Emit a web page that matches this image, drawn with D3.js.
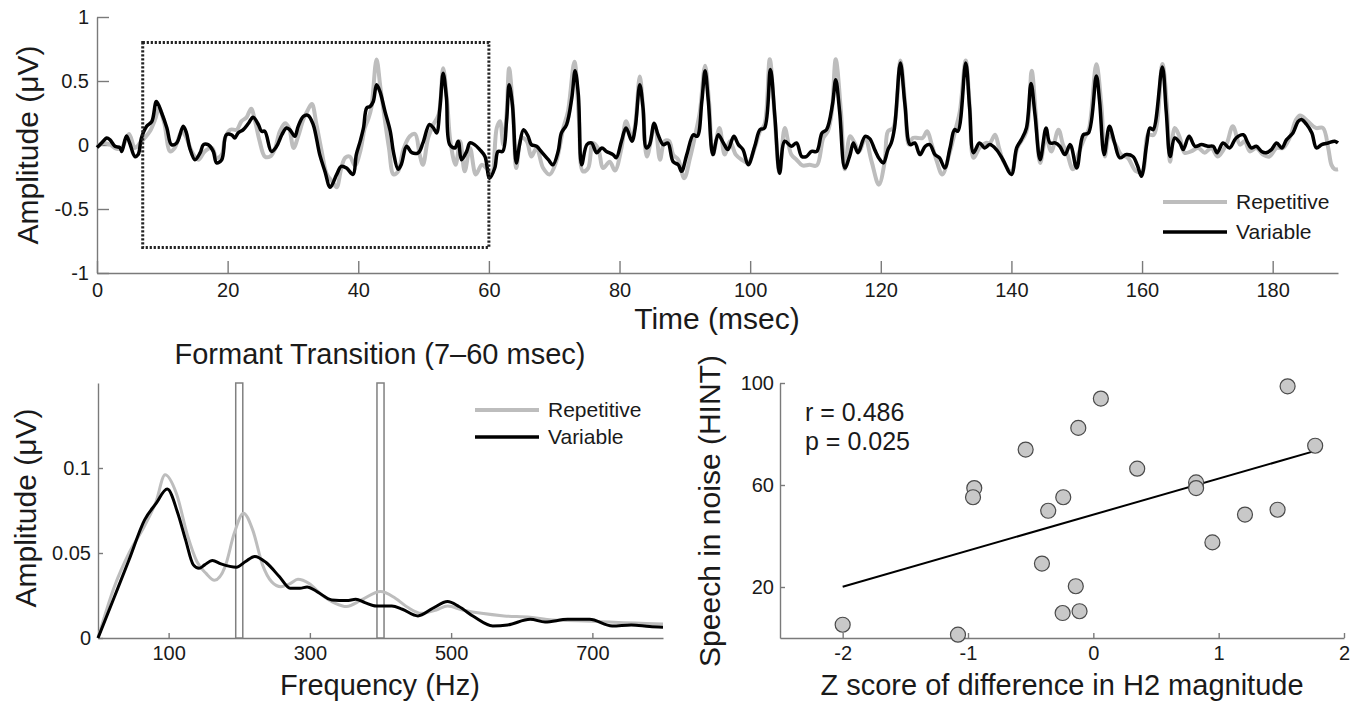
<!DOCTYPE html>
<html>
<head>
<meta charset="utf-8">
<script src="https://cdn.jsdelivr.net/npm/d3@7"></script>
<style>
  body { margin: 0; background: #fff; }
  text { font-family: "Liberation Sans", Arial, sans-serif; fill: #1a1a1a; }
</style>
</head>
<body>
<svg id="fig" width="1355" height="707"></svg>
<script>
////////////////////////////////////////
// data
////////////////////////////////////////

// top panel: averaged response, variable condition (black)
var varTime = [0,0.7,1.5,2.0,2.75,3.5,3.8,4.5,5.0,5.8,6.3,6.8,7.6,8.4,9.1,9.9,10.7,11.4,12.2,13.2,13.7,14.2,15.0,15.8,16.3,17.0,17.8,18.3,19.1,19.8,
  20.6,21.1,21.6,22.4,23.2,23.9,24.7,25.2,25.7,26.7,27.5,28.3,29.0,29.5,30.3,30.8,31.6,32.3,33.1,34.1,34.9,35.7,36.7,37.4,38.2,39.2,39.7,
  40.3,40.8,41.3,41.8,42.3,42.8,43.3,44.1,44.9,45.4,46.1,46.6,47.4,48.2,49.2,49.9,50.9,51.5,52.0,52.5,53.0,53.5,54.0,54.8,55.3,55.8,56.6,
  57.1,57.8,58.6,59.4,60.1,60.9,61.4,62.1,62.7,63.1,63.6,64.2,64.7,65.3,66.0,66.5,67.3,68.0,69.1,69.8,70.6,71.1,71.9,72.7,73.2,73.7,74.2,
  75.0,75.7,76.5,77.3,78.0,79.0,79.5,80.3,81.0,81.9,82.4,83.1,83.6,84.1,84.6,85.3,85.9,86.7,87.4,88.2,89.0,89.5,90.3,91.3,91.9,92.6,93.1,
  93.6,94.3,95.1,95.9,96.6,97.5,98.2,98.9,99.7,100.7,101.5,102.2,103.1,103.8,104.5,105.3,106.3,107.1,107.9,108.6,109.4,110.2,111.0,111.7,
  112.6,113.1,113.7,114.5,115.3,115.8,116.5,117.6,118.3,119.1,119.8,120.4,121.1,121.6,122.1,123.0,123.7,124.5,125.2,126.0,126.8,127.5,
  128.3,129.0,129.8,130.6,131.3,131.8,133.0,133.6,134.2,135.1,135.9,136.7,137.7,138.7,140.0,140.8,141.5,142.3,143.0,143.6,144.4,145.3,
  145.9,146.7,147.4,148.2,149.0,150.0,151.0,151.8,153.0,153.5,154.2,155.0,155.8,156.6,157.6,158.6,159.3,159.9,160.7,161.2,161.7,163.1,
  163.7,164.3,165.0,165.8,166.3,167.2,168.1,169.1,170.1,170.9,171.5,172.4,173.4,174.4,175.5,176.2,176.7,177.5,178.3,179.0,179.8,180.6,
  181.4,182.1,183.1,183.9,184.4,185.2,186.0,186.7,187.5,188.5,189.5,190.0];
var varAmp = [-0.02,0.016,0.055,0.04,-0.01,-0.02,-0.05,0.07,0.016,-0.09,-0.075,0.055,0.146,0.185,0.34,0.25,0.133,0.003,0.016,0.146,0.094,-0.023,-0.115,-0.06,0.003,0.003,-0.05,-0.14,-0.115,0.08,
  0.08,0.055,0.094,0.12,0.17,0.216,0.16,0.107,0.107,-0.05,-0.01,0.08,0.133,0.12,0.068,0.146,0.224,0.232,0.16,-0.075,-0.206,-0.33,-0.23,-0.167,-0.18,-0.23,-0.075,
  0.03,0.133,0.29,0.3,0.34,0.47,0.42,0.26,0.107,-0.06,-0.19,-0.15,-0.01,-0.06,-0.06,0.016,0.16,0.133,0.094,0.29,0.56,0.37,0.003,-0.023,0.03,-0.115,-0.05,
  0.016,0.003,-0.036,-0.09,-0.26,-0.18,-0.05,-0.05,0.185,0.47,0.315,-0.14,0.003,0.12,0.068,0.003,-0.01,-0.05,-0.115,-0.155,-0.05,0.094,0.16,0.37,0.58,0.39,-0.155,
  0.003,0.016,-0.06,-0.023,-0.05,-0.075,-0.1,0.03,0.133,0.03,0.133,0.47,0.29,-0.023,0.003,0.17,0.08,0.003,0.016,-0.13,-0.155,-0.206,-0.075,0.08,0.068,0.34,0.58,
  0.34,-0.075,0.08,0.016,-0.036,0.068,0.003,-0.036,-0.155,-0.01,0.12,0.133,0.59,0.21,-0.22,0.03,-0.01,0.016,-0.09,-0.09,-0.05,-0.05,0.094,0.12,
  0.315,0.51,0.26,-0.18,-0.075,0.016,-0.06,0.068,0.05,-0.04,-0.11,-0.14,-0.036,0.016,0.133,0.64,0.315,0.003,0.016,-0.075,-0.01,0.003,
  -0.075,-0.1,-0.18,-0.023,0.12,0.107,0.64,0.29,-0.06,0.016,-0.023,0.003,-0.036,-0.115,-0.23,-0.023,0.04,0.133,0.48,0.24,-0.115,0.133,
  0.016,0.016,-0.01,-0.075,0.003,-0.18,0.08,0.094,0.54,0.34,-0.075,0.146,0.016,-0.1,-0.075,-0.09,-0.16,-0.245,0.003,0.133,0.12,0.61,
  0.26,-0.09,0.055,0.016,-0.036,0.068,-0.01,0.003,-0.01,-0.01,-0.06,0.016,-0.023,0.055,0.08,0.016,-0.023,-0.01,-0.05,-0.06,-0.036,0.016,
  -0.023,0.04,0.094,0.185,0.2,0.16,0.094,-0.023,0.003,0.016,0.03,0.016];

// top panel: repetitive condition (grey)
var repTime = [0.05,1.0,2.0,3.0,3.8,4.9,5.8,6.6,7.3,8.1,8.9,9.5,10.3,11.2,11.9,13.0,13.7,14.5,15.5,16.5,17.6,18.3,19.1,19.6,20.4,21.4,22.1,22.9,23.6,24.2,
  24.9,25.7,26.5,27.2,28.0,28.8,29.4,30.1,30.8,31.6,32.3,32.9,33.6,34.4,35.2,36.1,36.7,37.4,38.0,38.7,39.5,40.3,41.0,41.5,42.0,42.8,43.4,
  44.1,44.7,45.4,46.1,46.9,47.9,48.7,49.4,49.9,50.7,51.5,52.3,53.0,53.6,54.1,54.9,55.6,56.3,57.1,58.0,58.9,59.6,60.4,61.2,61.7,62.2,62.7,
  63.1,63.7,64.2,65.0,65.8,66.5,67.3,68.3,69.3,70.3,71.4,72.1,73.1,73.8,74.4,75.2,75.9,76.7,77.5,78.5,79.3,80.3,81.0,81.9,82.4,83.1,83.6,
  84.2,85.4,86.2,86.9,87.6,88.2,89.0,89.9,90.8,91.6,92.3,93.1,93.7,94.3,95.3,96.1,96.9,97.8,98.7,99.7,100.7,101.5,102.2,103.0,103.7,104.5,
  105.3,106.3,107.1,108.0,109.1,110.2,111.2,111.9,112.5,113.1,113.9,114.5,115.3,116.0,116.7,117.6,118.6,119.7,120.6,121.1,121.9,123.0,
  123.7,124.3,124.9,125.7,126.4,127.1,127.8,128.5,129.4,130.6,131.5,132.1,133.0,133.6,134.2,135.1,136.1,136.7,137.5,138.1,138.8,140.0,
  140.9,142.3,143.1,143.7,144.4,145.3,146.1,147.2,147.9,148.5,149.4,150.2,151.2,151.9,153.0,153.8,154.3,155.0,156.1,156.8,157.8,159.1,
  160.1,160.9,161.8,163.1,163.8,164.3,165.0,165.8,166.5,167.5,168.6,169.6,170.6,171.6,172.9,173.9,175.0,175.7,176.5,177.5,178.5,179.5,
  180.6,181.6,182.6,183.6,184.2,185.4,186.6,187.7,188.5,189.0,189.5,190.0];
var repAmp = [-0.01,0.016,0.003,-0.03,-0.02,0.086,-0.023,0.016,0.055,0.107,0.2,0.29,0.17,-0.05,-0.023,0.107,0.055,-0.05,-0.115,-0.05,-0.023,-0.1,-0.075,0.055,0.12,0.12,0.185,0.216,0.284,0.185,
  0.03,-0.09,-0.09,-0.036,0.107,0.17,0.133,-0.023,0.068,0.2,0.276,0.32,0.16,-0.05,-0.23,-0.29,-0.33,-0.18,-0.1,-0.09,-0.16,-0.05,0.133,0.2,0.29,0.667,0.445,
  0.185,-0.023,-0.23,-0.206,-0.036,0.068,0.086,-0.075,-0.155,0.055,0.16,0.237,0.6,0.34,0.03,-0.155,0.03,-0.206,-0.023,-0.23,-0.155,-0.18,-0.23,0.133,0.185,0.003,0.237,
  0.6,0.26,-0.18,0.055,0.03,-0.09,-0.023,-0.18,-0.23,-0.13,0.133,0.26,0.65,0.185,-0.206,-0.18,0.016,-0.023,-0.18,-0.13,-0.2,-0.023,0.185,0.055,0.16,0.536,0.29,
  -0.09,0.16,-0.115,0.03,0.03,-0.075,-0.115,-0.26,-0.1,0.08,0.26,0.62,0.34,-0.075,0.133,-0.075,0.03,-0.075,-0.115,-0.14,-0.023,0.107,0.16,0.67,0.26,-0.22,
  0.133,-0.075,-0.115,-0.16,-0.155,-0.16,0.055,0.107,0.26,0.67,0.26,-0.19,0.068,0.016,-0.05,0.055,-0.13,-0.31,-0.13,0.107,0.133,0.66,
  0.34,0.003,0.055,0.055,0.055,0.107,0.003,-0.115,-0.23,-0.05,0.133,0.26,0.66,0.315,-0.1,-0.023,0.016,0.016,0.08,-0.023,-0.13,-0.206,
  -0.023,0.107,0.58,0.26,-0.14,0.055,-0.05,0.12,0.003,-0.06,-0.19,-0.075,0.055,0.133,0.63,0.29,-0.09,0.08,-0.01,-0.075,-0.1,-0.206,
  -0.206,0.08,0.08,0.633,0.315,-0.13,0.133,0.055,-0.06,-0.05,-0.023,-0.06,-0.023,-0.09,0.003,0.146,0.003,0.03,-0.05,-0.023,-0.075,-0.09,
  -0.023,-0.023,0.055,0.2,0.23,0.185,0.133,0.133,-0.023,-0.155,-0.19,-0.19];

var timeTicks = [0, 20, 40, 60, 80, 100, 120, 140, 160, 180];
var ampTicks = [-1, -0.5, 0, 0.5, 1];
var windowMs = [7, 60];       // dotted box, formant transition
var windowAmp = [-0.8, 0.8];

// bottom left: spectrum of the 7-60 msec window
var specHzVar = [0,23,44,66,82,98,113,124,135,143,151,162,174,196,209,222,238,257,272,286,296,310,331,352,365,378,394,416,431,453,474,495,511,532,559,580,612,633,665,696,728,755,781,800];
var specAmpVar = [0,0.024,0.046,0.0695,0.079,0.0876,0.0734,0.0577,0.043,0.041,0.043,0.0456,0.0436,0.0416,0.045,0.048,0.0444,0.036,0.0293,0.0293,0.030,0.0273,0.0224,0.022,0.0228,0.0208,0.0188,0.0188,0.0169,0.013,0.0175,0.0214,0.0185,0.0126,0.0071,0.0077,0.011,0.0094,0.011,0.011,0.0071,0.0077,0.0067,0.0063];
var specHzRep = [0,23,44,66,82,95,111,127,140,153,165,180,193,206,219,233,246,259,272,283,299,317,336,352,373,400,421,439,458,479,495,516,543,575,612,643,680,712,744,776,800];
var specAmpRep = [0,0.030,0.05,0.066,0.08,0.096,0.085,0.060,0.045,0.038,0.034,0.042,0.0617,0.0734,0.0636,0.043,0.033,0.0302,0.032,0.0345,0.032,0.0253,0.0204,0.0185,0.0224,0.0273,0.0234,0.0179,0.0145,0.0165,0.0188,0.0165,0.0145,0.013,0.0122,0.0106,0.0102,0.0096,0.009,0.0086,0.0082];
var harmonicHz = [200, 400];   // H1 / H2 markers
var harmonicHalfWidth = 5;
var freqTicks = [100, 300, 500, 700];
var specAmpTicks = [0, 0.05, 0.1];

// bottom right: subjects
var zScore = [-2.0,-1.08,-0.95,-0.96,-0.54,-0.41,-0.36,-0.24,-0.245,-0.14,-0.12,-0.11,0.06,0.35,0.82,0.82,0.95,1.21,1.47,1.55,1.77];
var hint = [5.2,1.3,58.8,55.2,73.9,29.2,49.9,55.2,9.8,20.3,82.4,10.5,93.9,66.4,61.0,58.8,37.5,48.4,50.3,98.7,75.4];
var zTicks = [-2, -1, 0, 1, 2];
var hintTicks = [20, 60, 100];
var statsText = ["r = 0.486", "p = 0.025"];

////////////////////////////////////////

var svg = d3.select("#fig");
var axisGrey = "#7a7a7a";
var greyLine = "#bdbdbd";

function styleAxis(g, fontSize) {
    g.select(".domain").attr("stroke", axisGrey).attr("stroke-width", 1.4);
    g.selectAll(".tick line").attr("stroke", axisGrey).attr("stroke-width", 1.4);
    g.selectAll(".tick text").style("font-size", fontSize + "px")
        .style("font-family", "'Liberation Sans', Arial, sans-serif").attr("fill", "#1a1a1a");
}

function drawText(x, y, str, size, anchor, rotate) {
    var t = svg.append("text")
        .attr("x", x).attr("y", y)
        .style("font-size", size + "px")
        .style("text-anchor", anchor || "middle")
        .text(str);
    if (rotate) t.attr("transform", "rotate(" + rotate + "," + x + "," + y + ")");
    return t;
}

function drawLegend(x, y, gap, size) {
    var items = [["Repetitive", greyLine, 4], ["Variable", "#000", 3.5]];
    items.forEach(function (it, i) {
        svg.append("line")
            .attr("x1", x).attr("x2", x + 64)
            .attr("y1", y + i * gap).attr("y2", y + i * gap)
            .attr("stroke", it[1]).attr("stroke-width", it[2]);
        drawText(x + 73, y + i * gap, it[0], size, "start").attr("dy", "0.35em");
    });
}

////////////////////////////////////////
// top: time domain
////////////////////////////////////////

var xT = d3.scaleLinear().domain([0, 190]).range([97, 1338]);
var yT = d3.scaleLinear().domain([-1, 1]).range([273, 17]);

var gx = svg.append("g").attr("transform", "translate(0," + yT(-1) + ")")
    .call(d3.axisBottom(xT).tickValues(timeTicks).tickSizeInner(-12).tickSizeOuter(0).tickPadding(10).tickFormat(String));
styleAxis(gx, 20);
var gy = svg.append("g").attr("transform", "translate(" + xT(0) + ",0)")
    .call(d3.axisLeft(yT).tickValues(ampTicks).tickSizeInner(-12).tickSizeOuter(0).tickPadding(8).tickFormat(String));
styleAxis(gy, 20);

var lineT = d3.line().curve(d3.curveCatmullRom.alpha(0.5))
    .x(function (d) { return xT(d[0]); }).y(function (d) { return yT(d[1]); });

svg.append("path").datum(d3.zip(repTime, repAmp))
    .attr("d", lineT).attr("fill", "none")
    .attr("stroke", greyLine).attr("stroke-width", 4).attr("stroke-linejoin", "round");
svg.append("path").datum(d3.zip(varTime, varAmp))
    .attr("d", lineT).attr("fill", "none")
    .attr("stroke", "#000").attr("stroke-width", 3.5).attr("stroke-linejoin", "round");

svg.append("rect")
    .attr("x", xT(windowMs[0])).attr("y", yT(windowAmp[1]))
    .attr("width", xT(windowMs[1]) - xT(windowMs[0]))
    .attr("height", yT(windowAmp[0]) - yT(windowAmp[1]))
    .attr("fill", "none").attr("stroke", "#222")
    .attr("stroke-width", 3).attr("stroke-dasharray", "2.2,1.8");

drawLegend(1163, 202, 30, 21);
drawText(717, 329, "Time (msec)", 30);
drawText(38, 145, "Amplitude (\u03bcV)", 30, "middle", -90);

////////////////////////////////////////
// bottom left: spectrum
////////////////////////////////////////

var xF = d3.scaleLinear().domain([0, 800]).range([98, 663]);
var yF = d3.scaleLinear().domain([0, 0.15]).range([638, 383]);

var gfx = svg.append("g").attr("transform", "translate(0," + yF(0) + ")")
    .call(d3.axisBottom(xF).tickValues(freqTicks).tickSizeInner(-5).tickSizeOuter(0).tickPadding(8).tickFormat(String));
styleAxis(gfx, 20);
var gfy = svg.append("g").attr("transform", "translate(" + xF(0) + ",0)")
    .call(d3.axisLeft(yF).tickValues(specAmpTicks).tickSizeInner(-5).tickSizeOuter(0).tickPadding(7).tickFormat(String));
styleAxis(gfy, 20);

svg.selectAll(".harm").data(harmonicHz).enter().append("rect")
    .attr("class", "harm")
    .attr("x", function (d) { return xF(d - harmonicHalfWidth); })
    .attr("width", function (d) { return xF(d + harmonicHalfWidth) - xF(d - harmonicHalfWidth); })
    .attr("y", yF(0.15)).attr("height", yF(0) - yF(0.15))
    .attr("fill", "#fff").attr("stroke", "#808080").attr("stroke-width", 1.5);

var lineF = d3.line().curve(d3.curveMonotoneX)
    .x(function (d) { return xF(d[0]); }).y(function (d) { return yF(d[1]); });
svg.append("path").datum(d3.zip(specHzRep, specAmpRep))
    .attr("d", lineF).attr("fill", "none").attr("stroke", greyLine).attr("stroke-width", 3);
svg.append("path").datum(d3.zip(specHzVar, specAmpVar))
    .attr("d", lineF).attr("fill", "none").attr("stroke", "#000").attr("stroke-width", 3);

drawLegend(475, 410, 27, 21);
drawText(380, 364, "Formant Transition (7\u201360 msec)", 29);
drawText(380, 695, "Frequency (Hz)", 29);
drawText(36, 508, "Amplitude (\u03bcV)", 30, "middle", -90);

////////////////////////////////////////
// bottom right: correlation
////////////////////////////////////////

var xS = d3.scaleLinear().domain([-2.5, 2]).range([780, 1344]);
var yS = d3.scaleLinear().domain([0, 100]).range([638, 383]);

var gsx = svg.append("g").attr("transform", "translate(0," + yS(0) + ")")
    .call(d3.axisBottom(xS).tickValues(zTicks).tickSizeInner(-5).tickSizeOuter(0).tickPadding(8).tickFormat(String));
styleAxis(gsx, 20);
var gsy = svg.append("g").attr("transform", "translate(" + xS(-2.5) + ",0)")
    .call(d3.axisLeft(yS).tickValues(hintTicks).tickSizeInner(-5).tickSizeOuter(0).tickPadding(6).tickFormat(String));
styleAxis(gsy, 20);

// least squares fit
var mx = d3.mean(zScore), my = d3.mean(hint);
var sxy = d3.sum(zScore, function (d, i) { return (d - mx) * (hint[i] - my); });
var sxx = d3.sum(zScore, function (d) { return (d - mx) * (d - mx); });
var slope = sxy / sxx, icpt = my - slope * mx;
var zExt = d3.extent(zScore);
svg.append("line")
    .attr("x1", xS(zExt[0])).attr("y1", yS(icpt + slope * zExt[0]))
    .attr("x2", xS(zExt[1])).attr("y2", yS(icpt + slope * zExt[1]))
    .attr("stroke", "#000").attr("stroke-width", 2);

svg.selectAll(".subj").data(d3.zip(zScore, hint)).enter().append("circle")
    .attr("class", "subj")
    .attr("cx", function (d) { return xS(d[0]); })
    .attr("cy", function (d) { return yS(d[1]); })
    .attr("r", 7.5)
    .attr("fill", "#c8c8c8").attr("stroke", "#4a4a4a").attr("stroke-width", 1.2);

statsText.forEach(function (s, i) {
    drawText(805, 421 + i * 29, s, 25, "start");
});
drawText(1062, 695, "Z score of difference in H2 magnitude", 29);
drawText(720, 511, "Speech in noise (HINT)", 30, "middle", -90);
</script>
</body>
</html>
